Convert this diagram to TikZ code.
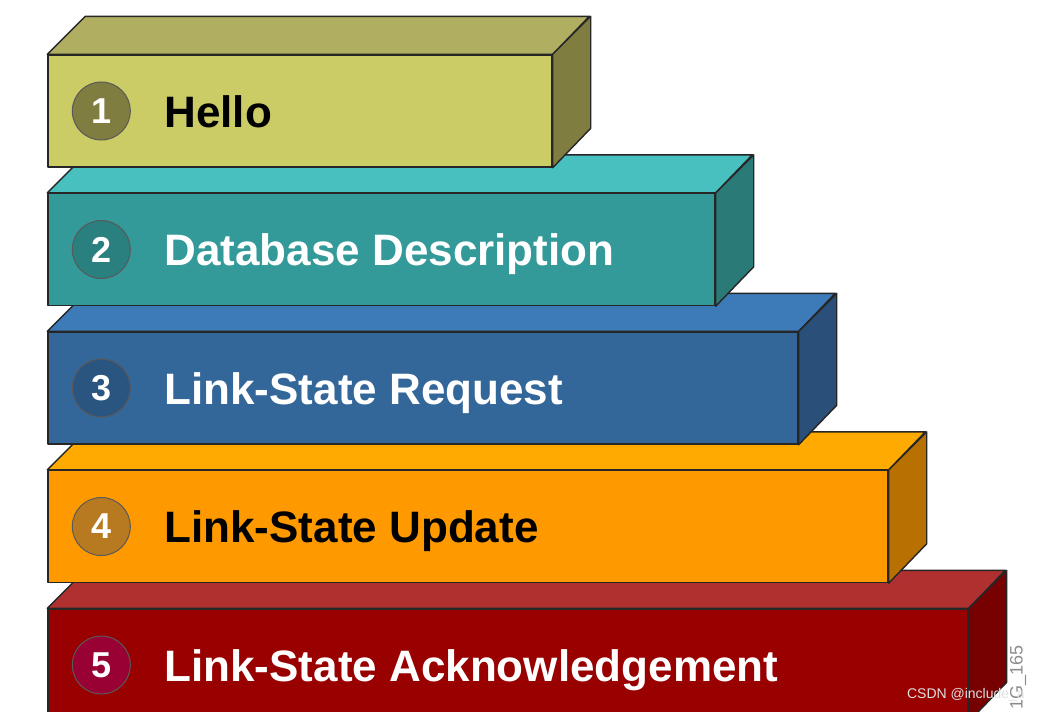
\documentclass[tikz,border=0pt]{standalone}
\usepackage{fontspec}
\setmainfont{Liberation Sans}

\definecolor{helloFront}{HTML}{CCCC66}
\definecolor{helloTop}{HTML}{B0AE60}
\definecolor{helloSide}{HTML}{7F7D40}
\definecolor{helloNum}{HTML}{7F7D40}
\definecolor{ddFront}{HTML}{339999}
\definecolor{ddTop}{HTML}{48C0C0}
\definecolor{ddSide}{HTML}{2A7A78}
\definecolor{ddNum}{HTML}{2A7F7F}
\definecolor{lsrFront}{HTML}{336699}
\definecolor{lsrTop}{HTML}{3D7AB8}
\definecolor{lsrSide}{HTML}{2A4F78}
\definecolor{lsrNum}{HTML}{2A5580}
\definecolor{lsuFront}{HTML}{FF9900}
\definecolor{lsuTop}{HTML}{FFAA00}
\definecolor{lsuSide}{HTML}{B87000}
\definecolor{lsuNum}{HTML}{B87A20}
\definecolor{ackFront}{HTML}{990000}
\definecolor{ackTop}{HTML}{B03030}
\definecolor{ackSide}{HTML}{770000}
\definecolor{ackNum}{HTML}{990033}

\begin{document}
\begin{tikzpicture}[x=1pt, y=-1pt,
    face/.style={draw=black!85, line width=1.4pt, line join=round},
    front/.style={face, rectangle, inner sep=0pt, minimum height=112pt},
    num/.style={circle, draw=black!65, line width=1pt, minimum size=58pt, inner sep=0pt, text=white, font=\fontsize{36}{36}\selectfont\bfseries},
    msgtext/.style={anchor=base west, inner sep=0pt, font=\fontsize{44}{48}\selectfont\bfseries}
]
    \useasboundingbox (0,0) rectangle (1039,712);
    \clip (0,0) rectangle (1039,712);

    % Link-State Acknowledgement
    \node[front, fill=ackFront, minimum width=920pt] (ack) at (508,665) {};
    \draw[face, fill=ackTop] (ack.north west) -- ++(38,-38) -- ++(920,0) -- (ack.north east) -- cycle;
    \draw[face, fill=ackSide] (ack.north east) -- ++(38,-38) -- ++(0,112) -- (ack.south east) -- cycle;
    \node[num, fill=ackNum] (ackNo) at ([xshift=54pt]ack.west) {5};
    \node[msgtext, text=white] (ackText) at ([xshift=117pt, yshift=-16pt]ack.west) {Link-State Acknowledgement};

    % Link-State Update
    \node[front, fill=lsuFront, minimum width=840pt] (lsu) at (468,526.5) {};
    \draw[face, fill=lsuTop] (lsu.north west) -- ++(38,-38) -- ++(840,0) -- (lsu.north east) -- cycle;
    \draw[face, fill=lsuSide] (lsu.north east) -- ++(38,-38) -- ++(0,112) -- (lsu.south east) -- cycle;
    \node[num, fill=lsuNum] (lsuNo) at ([xshift=54pt]lsu.west) {4};
    \node[msgtext, text=black] (lsuText) at ([xshift=117pt, yshift=-16pt]lsu.west) {Link-State Update};

    % Link-State Request
    \node[front, fill=lsrFront, minimum width=750pt] (lsr) at (423,388) {};
    \draw[face, fill=lsrTop] (lsr.north west) -- ++(38,-38) -- ++(750,0) -- (lsr.north east) -- cycle;
    \draw[face, fill=lsrSide] (lsr.north east) -- ++(38,-38) -- ++(0,112) -- (lsr.south east) -- cycle;
    \node[num, fill=lsrNum] (lsrNo) at ([xshift=54pt]lsr.west) {3};
    \node[msgtext, text=white] (lsrText) at ([xshift=117pt, yshift=-16pt]lsr.west) {Link-State Request};

    % Database Description
    \node[front, fill=ddFront, minimum width=667pt] (dd) at (381.5,249.5) {};
    \draw[face, fill=ddTop] (dd.north west) -- ++(38,-38) -- ++(667,0) -- (dd.north east) -- cycle;
    \draw[face, fill=ddSide] (dd.north east) -- ++(38,-38) -- ++(0,112) -- (dd.south east) -- cycle;
    \node[num, fill=ddNum] (ddNo) at ([xshift=54pt]dd.west) {2};
    \node[msgtext, text=white] (ddText) at ([xshift=117pt, yshift=-16pt]dd.west) {Database Description};

    % Hello
    \node[front, fill=helloFront, minimum width=504pt] (hello) at (300,111) {};
    \draw[face, fill=helloTop] (hello.north west) -- ++(38,-38) -- ++(504,0) -- (hello.north east) -- cycle;
    \draw[face, fill=helloSide] (hello.north east) -- ++(38,-38) -- ++(0,112) -- (hello.south east) -- cycle;
    \node[num, fill=helloNum] (helloNo) at ([xshift=54pt]hello.west) {1};
    \node[msgtext, text=black] (helloText) at ([xshift=117pt, yshift=-16pt]hello.west) {Hello};

    % marks
    \node[font=\fontsize{18}{18}\selectfont, text=black!45, rotate=90, anchor=east, inner sep=0pt] (figId) at (1018,645) {1G\_165};
    \node[font=\fontsize{14}{14}\selectfont, text=white!88!black, anchor=east, inner sep=0pt] (csdn) at (1025,695) {CSDN @include\_a};
\end{tikzpicture}
\end{document}
